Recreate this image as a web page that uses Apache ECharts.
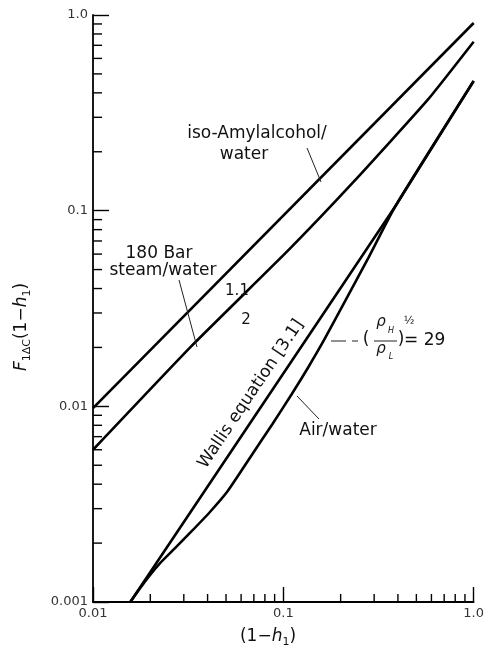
<!DOCTYPE html>
<html><head><meta charset="utf-8">
<script src="https://cdn.jsdelivr.net/npm/echarts@6/dist/echarts.min.js"></script>
<style>html,body{margin:0;padding:0;background:#fff}#c{width:487px;height:649px}</style>
</head><body><div id="c"></div>
<script>
// ---- data ----
const xTickLabels = ['0.01', '0.1', '1.0'];
const yTickLabels = ['0.001', '0.01', '0.1', '1.0'];
const xMinorTicks = [0.02, 0.03, 0.04, 0.05, 0.06, 0.07, 0.08, 0.09, 0.2, 0.3, 0.4, 0.5, 0.6, 0.7, 0.8, 0.9];
const yMinorTicks = [0.002, 0.003, 0.004, 0.005, 0.006, 0.007, 0.008, 0.009,
                     0.02, 0.03, 0.04, 0.05, 0.06, 0.07, 0.08, 0.09,
                     0.2, 0.3, 0.4, 0.5, 0.6, 0.7, 0.8, 0.9];
const isoAmylWater = [[0.01, 0.0098], [1.0, 0.91]];
const steamWater180Bar = [[0.01, 0.006], [0.0327, 0.0202], [0.107, 0.0632], [0.235, 0.141], [0.573, 0.368], [1.0, 0.73]];
const wallisEquation = [[0.0157, 0.001], [0.387, 0.105], [1.0, 0.46]];
const airWater = [[0.0157, 0.001], [0.0186, 0.00126], [0.0221, 0.00155], [0.0269, 0.00188], [0.0327, 0.00228],
                  [0.0407, 0.00285], [0.0508, 0.00367], [0.0676, 0.00556], [0.0877, 0.00813], [0.111, 0.0116],
                  [0.135, 0.0158], [0.164, 0.0219], [0.209, 0.0339], [0.282, 0.0582], [0.387, 0.105], [1.0, 0.46]];
const xMin = 0.01, xMax = 1.0, yMin = 0.001, yMax = 1.0;

// ---- chart ----
const FONT = 'DejaVu Sans';
const INK = '#111';
const chart = echarts.init(document.getElementById('c'));

function curve(name, data, smooth) {
  return {
    name, type: 'line', data, showSymbol: false, smooth: smooth || false,
    lineStyle: { color: '#000', width: 2.6 }, silent: true, z: 3
  };
}

function minorTickSeries(values, horizontal) {
  return {
    type: 'custom', silent: true, clip: false, z: 4,
    encode: { x: 0, y: 1 },
    data: values.map(v => horizontal ? [xMin, v] : [v, yMin]),
    renderItem: (params, api) => {
      const p = api.coord([api.value(0), api.value(1)]);
      const shape = horizontal
        ? { x1: p[0], y1: p[1], x2: p[0] + 9, y2: p[1] }
        : { x1: p[0], y1: p[1], x2: p[0], y2: p[1] - 8 };
      return { type: 'line', shape, style: { stroke: '#000', lineWidth: 1.4 } };
    }
  };
}

function txt(x, y, text, size, extra) {
  return Object.assign({
    type: 'text', x, y, silent: true, z: 10,
    style: Object.assign({ text, fontFamily: FONT, fontSize: size, fill: INK,
      textAlign: 'center', textVerticalAlign: 'middle' }, (extra && extra.style) || {})
  }, extra && extra.el || {});
}
function seg(x1, y1, x2, y2) {
  return { type: 'line', silent: true, z: 10, shape: { x1, y1, x2, y2 },
    style: { stroke: '#222', lineWidth: 1 } };
}

const option = {
  animation: false,
  backgroundColor: '#fff',
  grid: { left: 93, right: 6, top: 15, bottom: 47, containLabel: false },
  xAxis: {
    type: 'log', logBase: 10, min: xMin, max: xMax,
    axisLine: { show: true, lineStyle: { color: '#000', width: 1.8 } },
    axisTick: { show: true, inside: true, length: 15, lineStyle: { color: '#000', width: 1.4 } },
    minorTick: { show: false },
    splitLine: { show: false },
    axisLabel: { margin: 5, fontFamily: FONT, fontSize: 13, color: '#333',
      formatter: v => xTickLabels[Math.round(Math.log10(v)) + 2] }
  },
  yAxis: {
    type: 'log', logBase: 10, min: yMin, max: yMax,
    axisLine: { show: true, lineStyle: { color: '#000', width: 1.8 } },
    axisTick: { show: true, inside: true, length: 16, lineStyle: { color: '#000', width: 1.4 } },
    minorTick: { show: false },
    splitLine: { show: false },
    axisLabel: { margin: 5, fontFamily: FONT, fontSize: 13, color: '#333',
      formatter: v => yTickLabels[Math.round(Math.log10(v)) + 3] }
  },
  series: [
    curve('iso-Amylalcohol/water', isoAmylWater),
    curve('180 Bar steam/water', steamWater180Bar, 0.15),
    curve('Wallis equation [3.1]', wallisEquation),
    curve('Air/water', airWater, 0.2),
    minorTickSeries(xMinorTicks, false),
    minorTickSeries(yMinorTicks, true)
  ],
  graphic: [
    // axis titles
    {
      type: 'text', x: 22, y: 327, rotation: Math.PI / 2, silent: true,
      style: {
        text: '{i|F}{s|1ΔC}{n|(1−}{i|h}{s|1}{n|)}',
        textAlign: 'center', textVerticalAlign: 'middle', fill: INK,
        rich: {
          i: { fontFamily: FONT, fontSize: 17, fontStyle: 'italic', lineHeight: 22, verticalAlign: 'middle', fill: INK },
          n: { fontFamily: FONT, fontSize: 17, lineHeight: 22, verticalAlign: 'middle', fill: INK },
          s: { fontFamily: FONT, fontSize: 11, lineHeight: 12, verticalAlign: 'bottom', fill: INK }
        }
      }
    },
    {
      type: 'text', x: 268, y: 637, silent: true,
      style: {
        text: '{n|(1−}{i|h}{s|1}{n|)}',
        textAlign: 'center', textVerticalAlign: 'middle', fill: INK,
        rich: {
          i: { fontFamily: FONT, fontSize: 17, fontStyle: 'italic', lineHeight: 22, verticalAlign: 'middle', fill: INK },
          n: { fontFamily: FONT, fontSize: 17, lineHeight: 22, verticalAlign: 'middle', fill: INK },
          s: { fontFamily: FONT, fontSize: 11, lineHeight: 12, verticalAlign: 'bottom', fill: INK }
        }
      }
    },
    // curve annotations
    txt(257, 134, 'iso-Amylalcohol/', 17),
    txt(244, 155, 'water', 17),
    seg(307, 148, 321, 182),
    txt(159, 254, '180 Bar', 17),
    txt(163, 271, 'steam/water', 17),
    seg(179, 280, 197, 347),
    txt(237, 291, '1.1', 15),
    txt(246, 320, '2', 15),
    txt(251, 394, 'Wallis equation [3.1]', 17, { el: { rotation: 56 * Math.PI / 180 } }),
    txt(338, 431, 'Air/water', 17),
    seg(297, 396, 319, 419),
    // (rho_H / rho_L)^1/2 = 29
    seg(331, 341, 346, 341),
    seg(352, 341, 358, 341),
    txt(366, 340, '(', 17),
    txt(381, 322, 'ρ', 15, { style: { fontStyle: 'italic' } }),
    txt(391, 331, 'H', 8, { style: { fontStyle: 'italic' } }),
    seg(374, 341, 397, 341),
    txt(381, 349, 'ρ', 15, { style: { fontStyle: 'italic' } }),
    txt(391, 357, 'L', 8, { style: { fontStyle: 'italic' } }),
    txt(401, 340, ')', 17),
    txt(409, 321, '½', 11),
    txt(404, 341, '= 29', 17, { style: { textAlign: 'left' } })
  ]
};
chart.setOption(option);
</script>
</body></html>
